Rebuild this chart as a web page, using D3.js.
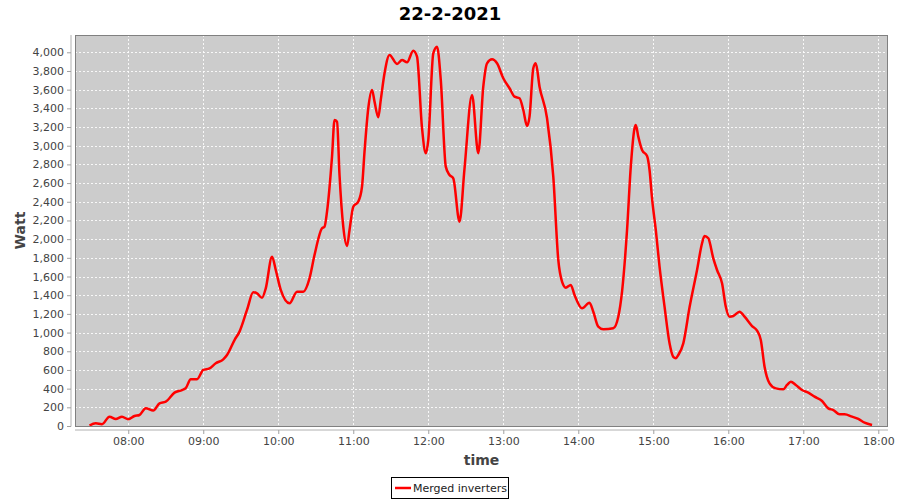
<!DOCTYPE html>
<html>
<head>
<meta charset="utf-8">
<script src="https://cdn.jsdelivr.net/npm/d3@7"></script>
<style>
  html, body { margin: 0; padding: 0; background: #fff; }
  svg { display: block; }
</style>
</head>
<body>
<svg id="chart" width="900" height="500"></svg>
<script>
const title = "22-2-2021";
const seriesName = "Merged inverters";
const xLabel = "time";
const yLabel = "Watt";
const times = ["07:29","07:34","07:39","07:45","07:50","07:55","08:00","08:05","08:09","08:14","08:20","08:25","08:30","08:37","08:43","08:46","08:50","08:55","09:00","09:05","09:10","09:16","09:19","09:25","09:29","09:35","09:40","09:43","09:47","09:50","09:55","09:58","10:02","10:09","10:15","10:20","10:25","10:29","10:35","10:37","10:39","10:43","10:45","10:47","10:49","10:52","10:55","10:57","11:00","11:04","11:07","11:09","11:12","11:15","11:17","11:20","11:22","11:25","11:29","11:35","11:39","11:43","11:48","11:51","11:55","11:58","12:00","12:04","12:07","12:10","12:14","12:17","12:20","12:25","12:29","12:35","12:40","12:44","12:47","12:51","12:55","13:00","13:05","13:09","13:13","13:16","13:19","13:21","13:24","13:26","13:29","13:35","13:40","13:44","13:47","13:50","13:54","13:57","14:03","14:09","14:12","14:16","14:20","14:28","14:32","14:35","14:39","14:42","14:45","14:46","14:48","14:51","14:55","14:57","14:59","15:02","15:05","15:09","15:13","15:16","15:18","15:20","15:24","15:29","15:35","15:39","15:41","15:44","15:48","15:51","15:55","15:58","16:01","16:04","16:09","16:13","16:19","16:23","16:26","16:29","16:33","16:38","16:44","16:47","16:50","16:54","16:59","17:04","17:09","17:15","17:20","17:24","17:29","17:33","17:39","17:44","17:49","17:55"];
const watts = [5,30,20,100,75,100,72,107,118,190,165,243,260,357,385,405,500,500,600,617,671,714,760,920,1010,1242,1431,1420,1373,1474,1812,1670,1456,1313,1438,1438,1581,1830,2116,2133,2294,2883,3275,3257,2687,2133,1927,2098,2347,2401,2562,2936,3401,3597,3472,3304,3490,3775,3971,3875,3918,3893,4017,3953,3187,2919,3061,3989,4060,3704,2776,2687,2651,2187,2758,3543,2919,3632,3882,3925,3882,3722,3615,3525,3508,3382,3211,3311,3829,3882,3632,3294,2669,1777,1545,1481,1509,1402,1260,1320,1223,1063,1035,1046,1170,1438,2098,2776,3187,3222,3097,2954,2890,2740,2437,2098,1705,1277,885,740,725,760,885,1270,1670,1956,2034,2009,1795,1670,1527,1277,1170,1177,1223,1170,1070,1020,920,635,457,403,393,439,474,439,385,357,314,268,189,171,125,125,100,75,35,11];
const xTickLabels = ["08:00","09:00","10:00","11:00","12:00","13:00","14:00","15:00","16:00","17:00","18:00"];
const yTickValues = d3.range(0, 4001, 200);

const parse = d3.timeParse("%H:%M");
const data = times.map((t, i) => ({ t: parse(t), v: watts[i] }));

const svg = d3.select("#chart");
const L = 75, R = 888, T = 35, B = 426;
const x = d3.scaleTime()
  .domain([new Date(1900, 0, 1, 7, 17, 24), new Date(1900, 0, 1, 18, 7, 45)])
  .range([L, R]);
const y = d3.scaleLinear().domain([0, 4185]).range([B, T]);
const xTicks = xTickLabels.map(parse);

// plot background
svg.append("rect").attr("x", L).attr("y", T).attr("width", R - L).attr("height", B - T)
  .attr("fill", "#cccccc");

// gridlines
const grid = svg.append("g");
grid.selectAll(".gy").data(yTickValues).join("line")
  .attr("x1", L).attr("x2", R)
  .attr("y1", d => Math.round(y(d)) + 0.5).attr("y2", d => Math.round(y(d)) + 0.5)
  .attr("stroke", "#ffffff").attr("stroke-opacity", 0.85).attr("stroke-width", 1)
  .attr("stroke-dasharray", "2,2");
grid.selectAll(".gx").data(xTicks).join("line")
  .attr("y1", T).attr("y2", B)
  .attr("x1", d => Math.round(x(d)) + 0.5).attr("x2", d => Math.round(x(d)) + 0.5)
  .attr("stroke", "#ffffff").attr("stroke-opacity", 0.85).attr("stroke-width", 1)
  .attr("stroke-dasharray", "2,2");

// line
const line = d3.line().x(d => x(d.t)).y(d => y(d.v)).curve(d3.curveMonotoneX);
svg.append("path").datum(data).attr("d", line)
  .attr("fill", "none").attr("stroke", "#ff0000").attr("stroke-width", 2.5)
  .attr("stroke-linejoin", "round");

// outline
svg.append("rect").attr("x", L + 0.5).attr("y", T + 0.5).attr("width", R - L - 1).attr("height", B - T)
  .attr("fill", "none").attr("stroke", "#808080").attr("stroke-width", 1);

// axes
const fmt = d3.format(",");
const yAxis = d3.axisLeft(y).tickValues(yTickValues).tickFormat(fmt).tickSize(4).tickPadding(3);
const gy = svg.append("g").attr("transform", `translate(${L - 4},0)`).call(yAxis);
const xAxis = d3.axisBottom(x).tickValues(xTicks).tickFormat(d3.timeFormat("%H:%M")).tickSize(4).tickPadding(3);
const gx = svg.append("g").attr("transform", `translate(0,${B + 4})`).call(xAxis);
[gx, gy].forEach(g => {
  g.select(".domain").attr("stroke", "#b0b0b0");
  g.selectAll(".tick line").attr("stroke", "#a0a0a0");
  g.selectAll(".tick text").attr("fill", "#444").attr("font-family", "DejaVu Sans").attr("font-size", 11);
});
gy.select(".domain").attr("d", `M0,${T}V${B + 0.5}`);
gx.select(".domain").attr("d", `M${L},0H${R}`);

// titles
svg.append("text").attr("x", 450).attr("y", 20).attr("text-anchor", "middle")
  .attr("font-family", "DejaVu Sans").attr("font-weight", "bold").attr("font-size", 18)
  .attr("fill", "#000").text(title);
svg.append("text").attr("x", (L + R) / 2).attr("y", 465).attr("text-anchor", "middle")
  .attr("font-family", "DejaVu Sans").attr("font-weight", "bold").attr("font-size", 14)
  .attr("fill", "#444").text(xLabel);
svg.append("text").attr("transform", `translate(25,${(T + B) / 2}) rotate(-90)`).attr("text-anchor", "middle")
  .attr("font-family", "DejaVu Sans").attr("font-weight", "bold").attr("font-size", 14)
  .attr("fill", "#444").text(yLabel);

// legend
const lg = svg.append("g");
lg.append("rect").attr("x", 391.5).attr("y", 477.5).attr("width", 117).attr("height", 21)
  .attr("fill", "#fff").attr("stroke", "#000").attr("stroke-width", 1);
lg.append("line").attr("x1", 395).attr("x2", 411).attr("y1", 488).attr("y2", 488)
  .attr("stroke", "#ff0000").attr("stroke-width", 2.5);
lg.append("text").attr("x", 413).attr("y", 492).attr("font-family", "DejaVu Sans").attr("font-size", 11)
  .attr("fill", "#222").text(seriesName);
</script>
</body>
</html>
